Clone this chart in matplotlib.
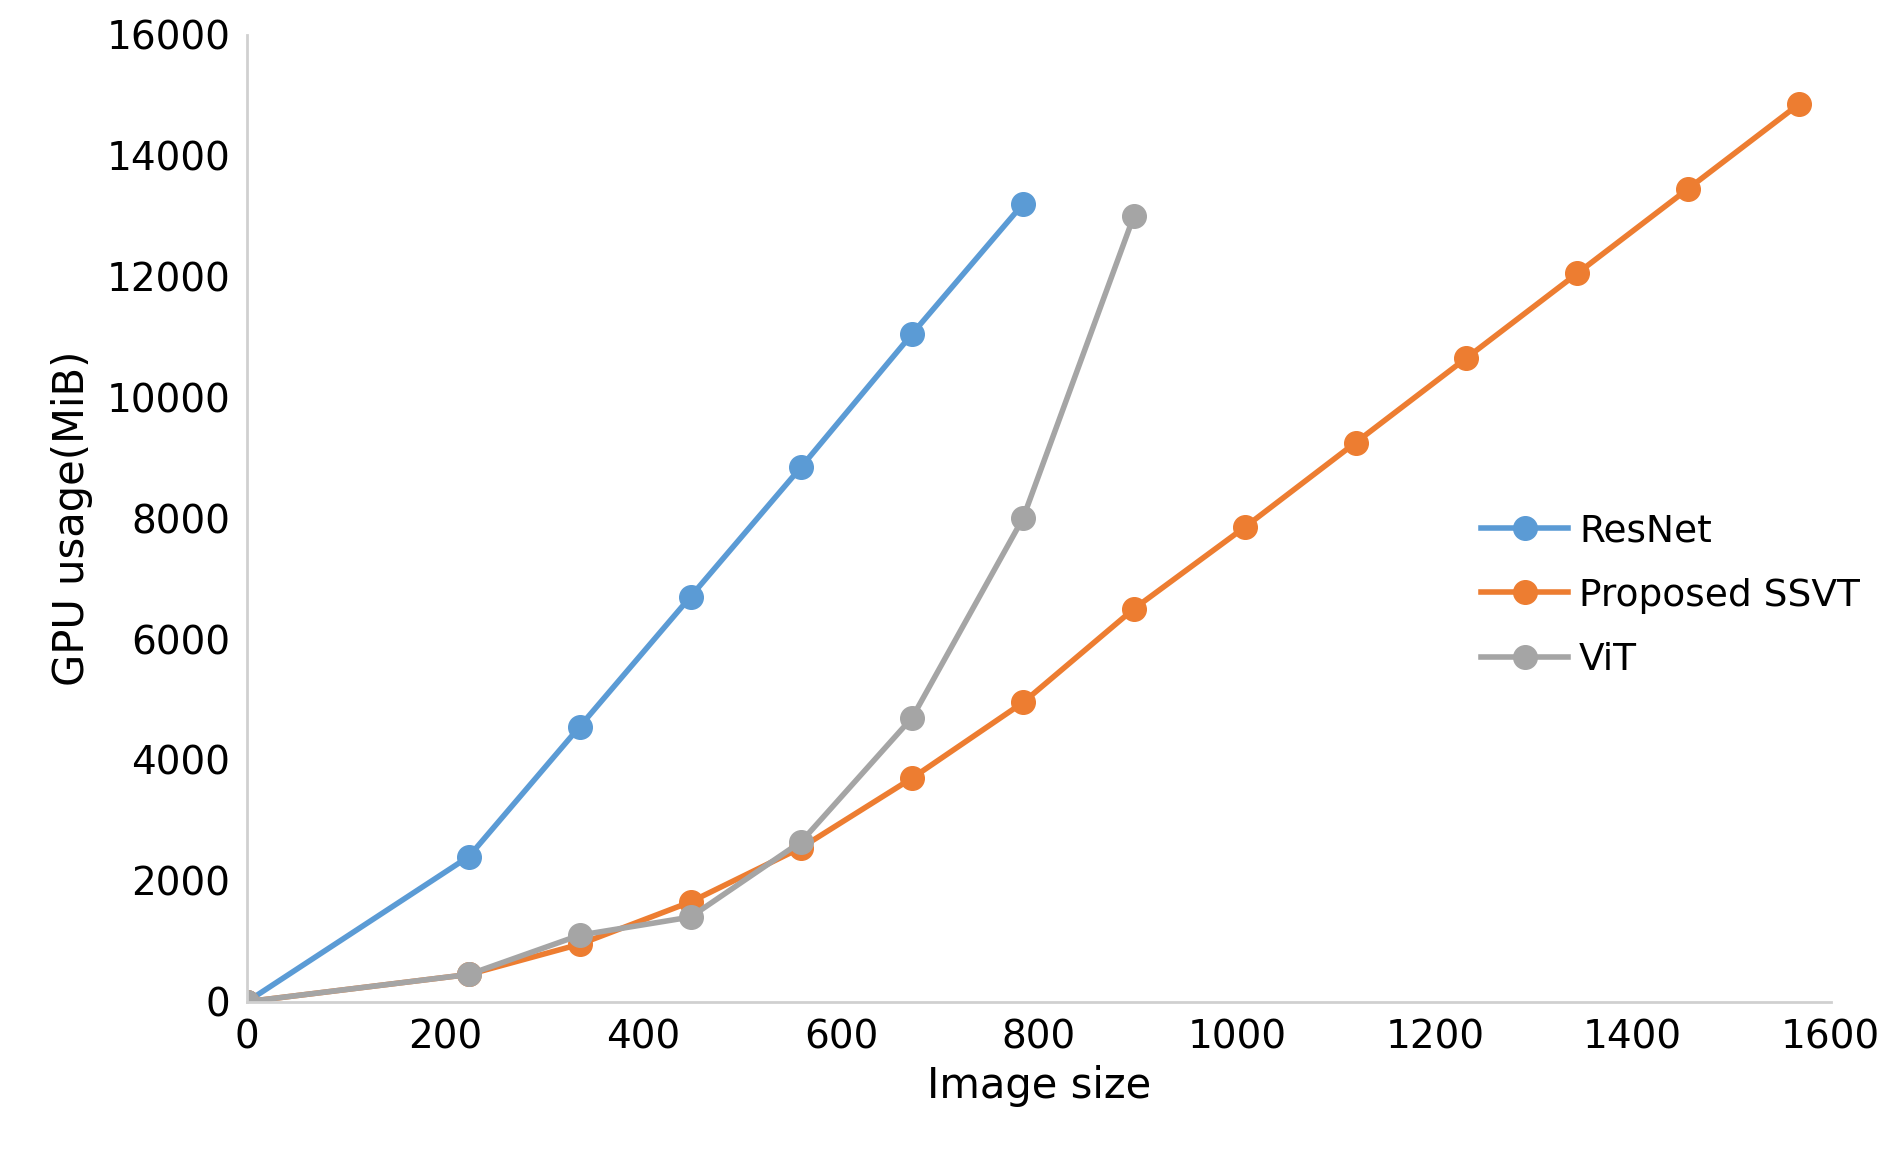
import matplotlib.pyplot as plt

sizes = [0, 224, 336, 448, 560, 672, 784, 896, 1008, 1120, 1232, 1344, 1456, 1568]
resnet = [0, 2400, 4550, 6700, 8850, 11050, 13200]
ssvt = [0, 450, 950, 1650, 2550, 3700, 4950, 6500, 7850, 9250, 10650, 12050, 13450, 14850]
vit = [0, 450, 1100, 1400, 2650, 4700, 8000, 13000]

fig = plt.figure(figsize=(19.01, 11.54), dpi=100)
ax = fig.add_axes([0.13, 0.132, 0.833, 0.838])

ax.plot(sizes[:len(resnet)], resnet, marker='o', c='#5b9bd5', lw=4, ms=17, label='ResNet')
ax.plot(sizes, ssvt, marker='o', c='#ed7d31', lw=4, ms=17, label='Proposed SSVT')
ax.plot(sizes[:len(vit)], vit, marker='o', c='#a5a5a5', lw=4, ms=17, label='ViT')

ax.set_xlim(0, 1600)
ax.set_ylim(0, 16000)
ax.set_xticks(range(0, 1601, 200))
ax.set_yticks(range(0, 16001, 2000))
for s in ['top', 'right']:
    ax.spines[s].set_visible(False)
for s in ['left', 'bottom']:
    ax.spines[s].set_color('#d0d0d0')
    ax.spines[s].set_linewidth(2)
ax.tick_params(length=0, labelsize=28, pad=12)
ax.set_xlabel('Image size', fontsize=30, labelpad=6)
ax.set_ylabel('GPU usage(MiB)', fontsize=30, labelpad=10)
ax.legend(loc='center left', bbox_to_anchor=(0.77, 0.42), frameon=False,
          fontsize=27, handlelength=2.3, handletextpad=0.3, labelspacing=0.75,
          borderaxespad=0)

fig.savefig('out.png')
